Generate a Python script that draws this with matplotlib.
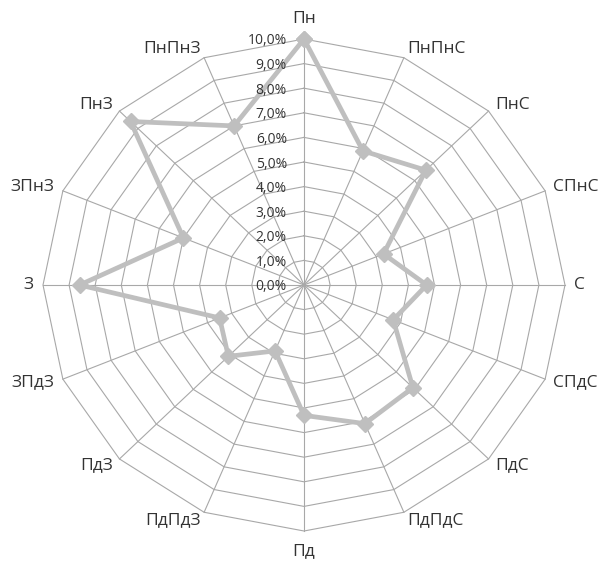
import numpy as np
import matplotlib
matplotlib.use('Agg')
import matplotlib.pyplot as plt

directions = ['Пн', 'ПнПнС', 'ПнС', 'СПнС', 'С', 'СПдС', 'ПдС', 'ПдПдС',
              'Пд', 'ПдПдЗ', 'ПдЗ', 'ЗПдЗ', 'З', 'ЗПнЗ', 'ПнЗ', 'ПнПнЗ']
frequency = [10.0, 5.9, 6.6, 3.3, 4.7, 3.7, 5.9, 6.1,
             5.3, 2.9, 4.1, 3.5, 8.6, 5.0, 9.4, 7.0]
r_ticks = [0, 1, 2, 3, 4, 5, 6, 7, 8, 9, 10]
r_tick_labels = ['0,0%', '1,0%', '2,0%', '3,0%', '4,0%', '5,0%',
                 '6,0%', '7,0%', '8,0%', '9,0%', '10,0%']

plt.rcParams['font.family'] = ['Open Sans', 'DejaVu Sans']

GRID = '#A8A8A8'
LINE = '#BFBFBF'
TEXT = '#333333'

fig = plt.figure(figsize=(6.02, 5.62), dpi=100)
ax = fig.add_axes([43 / 602, 31 / 562, 522 / 602, 492 / 562], projection='polar')
ax.set_aspect('auto')
ax.set_theta_zero_location('N')
ax.set_theta_direction(-1)
ax.set_ylim(0, r_ticks[-1])
ax.grid(False)
ax.spines['polar'].set_visible(False)
ax.set_xticks([])
ax.set_yticks([])
ax.patch.set_visible(False)

n = len(directions)
theta = np.arange(n) * 2 * np.pi / n
theta_closed = np.append(theta, theta[0])

# polygon rings
for t in r_ticks[1:]:
    ax.plot(theta_closed, [t] * (n + 1), color=GRID, lw=0.8, zorder=1, clip_on=False)
# spokes
for th in theta:
    ax.plot([th, th], [0, r_ticks[-1]], color=GRID, lw=0.8, zorder=1, clip_on=False)

# data
vals = np.append(frequency, frequency[0])
ax.plot(theta_closed, vals, color=LINE, lw=3.4, marker='D', ms=8,
        markerfacecolor=LINE, markeredgecolor=LINE, zorder=3, clip_on=False)

# radial tick labels
for t, lab in zip(r_ticks, r_tick_labels):
    ax.annotate(lab, xy=(0, t), xytext=(-17, -2), textcoords='offset pixels',
                ha='right', va='center', fontsize=10, color=TEXT,
                annotation_clip=False, zorder=4)

# category labels
for th, lab in zip(theta, directions):
    s, c = np.sin(th), np.cos(th)
    if abs(s) < 0.01:
        ha = 'center'
        va = 'bottom' if c > 0 else 'top'
        off = (0, 12 * np.sign(c))
    else:
        ha = 'left' if s > 0 else 'right'
        va = 'center'
        off = (9 * s, 9 * c)
    ax.annotate(lab, xy=(th, r_ticks[-1]), xytext=off, textcoords='offset pixels',
                ha=ha, va=va, fontsize=12.5, color=TEXT, annotation_clip=False)

fig.savefig('out.png', dpi=100)
